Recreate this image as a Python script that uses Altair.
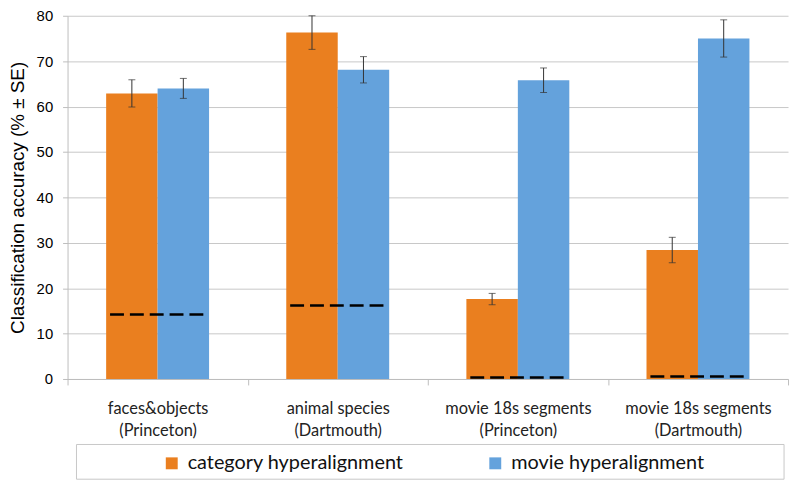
import altair as alt
import pandas as pd

categories = ["faces&objects|(Princeton)", "animal species|(Dartmouth)",
              "movie 18s segments|(Princeton)", "movie 18s segments|(Dartmouth)"]
series_names = ["category hyperalignment", "movie hyperalignment"]
category_acc = [62.9, 76.3, 17.6, 28.4]
category_se = [3.0, 3.7, 1.25, 2.8]
movie_acc = [64.0, 68.1, 65.8, 75.0]
movie_se = [2.2, 2.9, 2.7, 4.1]
chance = [14.2, 16.2, 0.35, 0.55]

colors = ["#EA7F1F", "#64A2DC"]

rows = []
for i, c in enumerate(categories):
    rows.append({"cat": c, "series": series_names[0], "acc": category_acc[i], "se": category_se[i]})
    rows.append({"cat": c, "series": series_names[1], "acc": movie_acc[i], "se": movie_se[i]})
df = pd.DataFrame(rows)
df["lo"] = df["acc"] - df["se"]
df["hi"] = df["acc"] + df["se"]

chance_df = pd.DataFrame({"idx": list(range(len(categories))), "chance": chance})

W, H = 726, 366

x_scale = alt.Scale(paddingInner=0, paddingOuter=0)
x_enc = alt.X("cat:N", sort=categories, scale=x_scale,
              axis=alt.Axis(title=None, labelExpr="split(datum.label, '|')", labelAngle=0,
                            tickBand="extent", domainColor="#bdbdbd", tickColor="#bdbdbd",
                            tickSize=6, labelFont="Lato", labelFontSize=16.5, labelColor="#222222",
                            labelLineHeight=22, labelPadding=16, grid=False))
xoff = alt.XOffset("series:N", scale=alt.Scale(paddingOuter=0.75, paddingInner=0))

y_axis = alt.Axis(values=[0, 10, 20, 30, 40, 50, 60, 70, 80], grid=True, gridColor="#c8c8c8",
                  domainColor="#bdbdbd", tickColor="#bdbdbd", tickSize=5,
                  labelFont="Liberation Sans", labelFontSize=15, labelColor="#000000",
                  labelPadding=10, title="Classification accuracy (% ± SE)",
                  titleFont="Liberation Sans", titleFontSize=19, titleFontWeight="normal",
                  titleColor="#000000", titlePadding=9)
y_scale = alt.Scale(domain=[0, 80], nice=False)

base = alt.Chart(df)

bars = base.mark_bar().encode(
    x=x_enc, xOffset=xoff,
    y=alt.Y("acc:Q", scale=y_scale, axis=y_axis),
    color=alt.Color("series:N", scale=alt.Scale(domain=series_names, range=colors),
                    legend=alt.Legend(title=None, orient="none", legendX=95, legendY=441,
                                      direction="horizontal", symbolType="square",
                                      symbolSize=144, symbolStrokeWidth=0,
                                      labelFont="Lato", labelFontSize=20, labelColor="#111111",
                                      labelLimit=400, labelOffset=6, columnPadding=82,
                                      padding=0)),
)

err = base.mark_rule(color="#333333", strokeWidth=1).encode(
    x=x_enc, xOffset=xoff, y=alt.Y("lo:Q", scale=y_scale), y2="hi:Q")
cap_hi = base.mark_tick(color="#333333", thickness=1, size=7).encode(
    x=x_enc, xOffset=xoff, y=alt.Y("hi:Q", scale=y_scale))
cap_lo = base.mark_tick(color="#333333", thickness=1, size=7).encode(
    x=x_enc, xOffset=xoff, y=alt.Y("lo:Q", scale=y_scale))

main = alt.layer(bars, err, cap_hi, cap_lo)

chance_line = alt.Chart(chance_df).transform_calculate(
    x1="datum.idx + 0.5 - 0.264", x2="datum.idx + 0.5 + 0.264"
).mark_rule(color="#000000", strokeWidth=2.5, strokeDash=[14, 6]).encode(
    x=alt.X("x1:Q", scale=alt.Scale(domain=[0, 4], nice=False, zero=False), axis=None),
    x2="x2:Q",
    y=alt.Y("chance:Q", scale=y_scale),
)

box = alt.Chart(pd.DataFrame({"a": [0]})).mark_rect(
    fill="white", fillOpacity=0, stroke="#c8c8c8", strokeWidth=1
).encode(x=alt.value(9), x2=alt.value(722), y=alt.value(432), y2=alt.value(467))

chart = alt.layer(main, chance_line, box).resolve_scale(
    x="independent"
).properties(
    width=W, height=H,
    autosize=alt.AutoSizeParams(type="none"),
    padding={"left": 60, "top": 6, "right": 4, "bottom": 102},
).configure_view(stroke=None)

chart.save("out.html", embed_options={"renderer": "svg", "actions": False})
